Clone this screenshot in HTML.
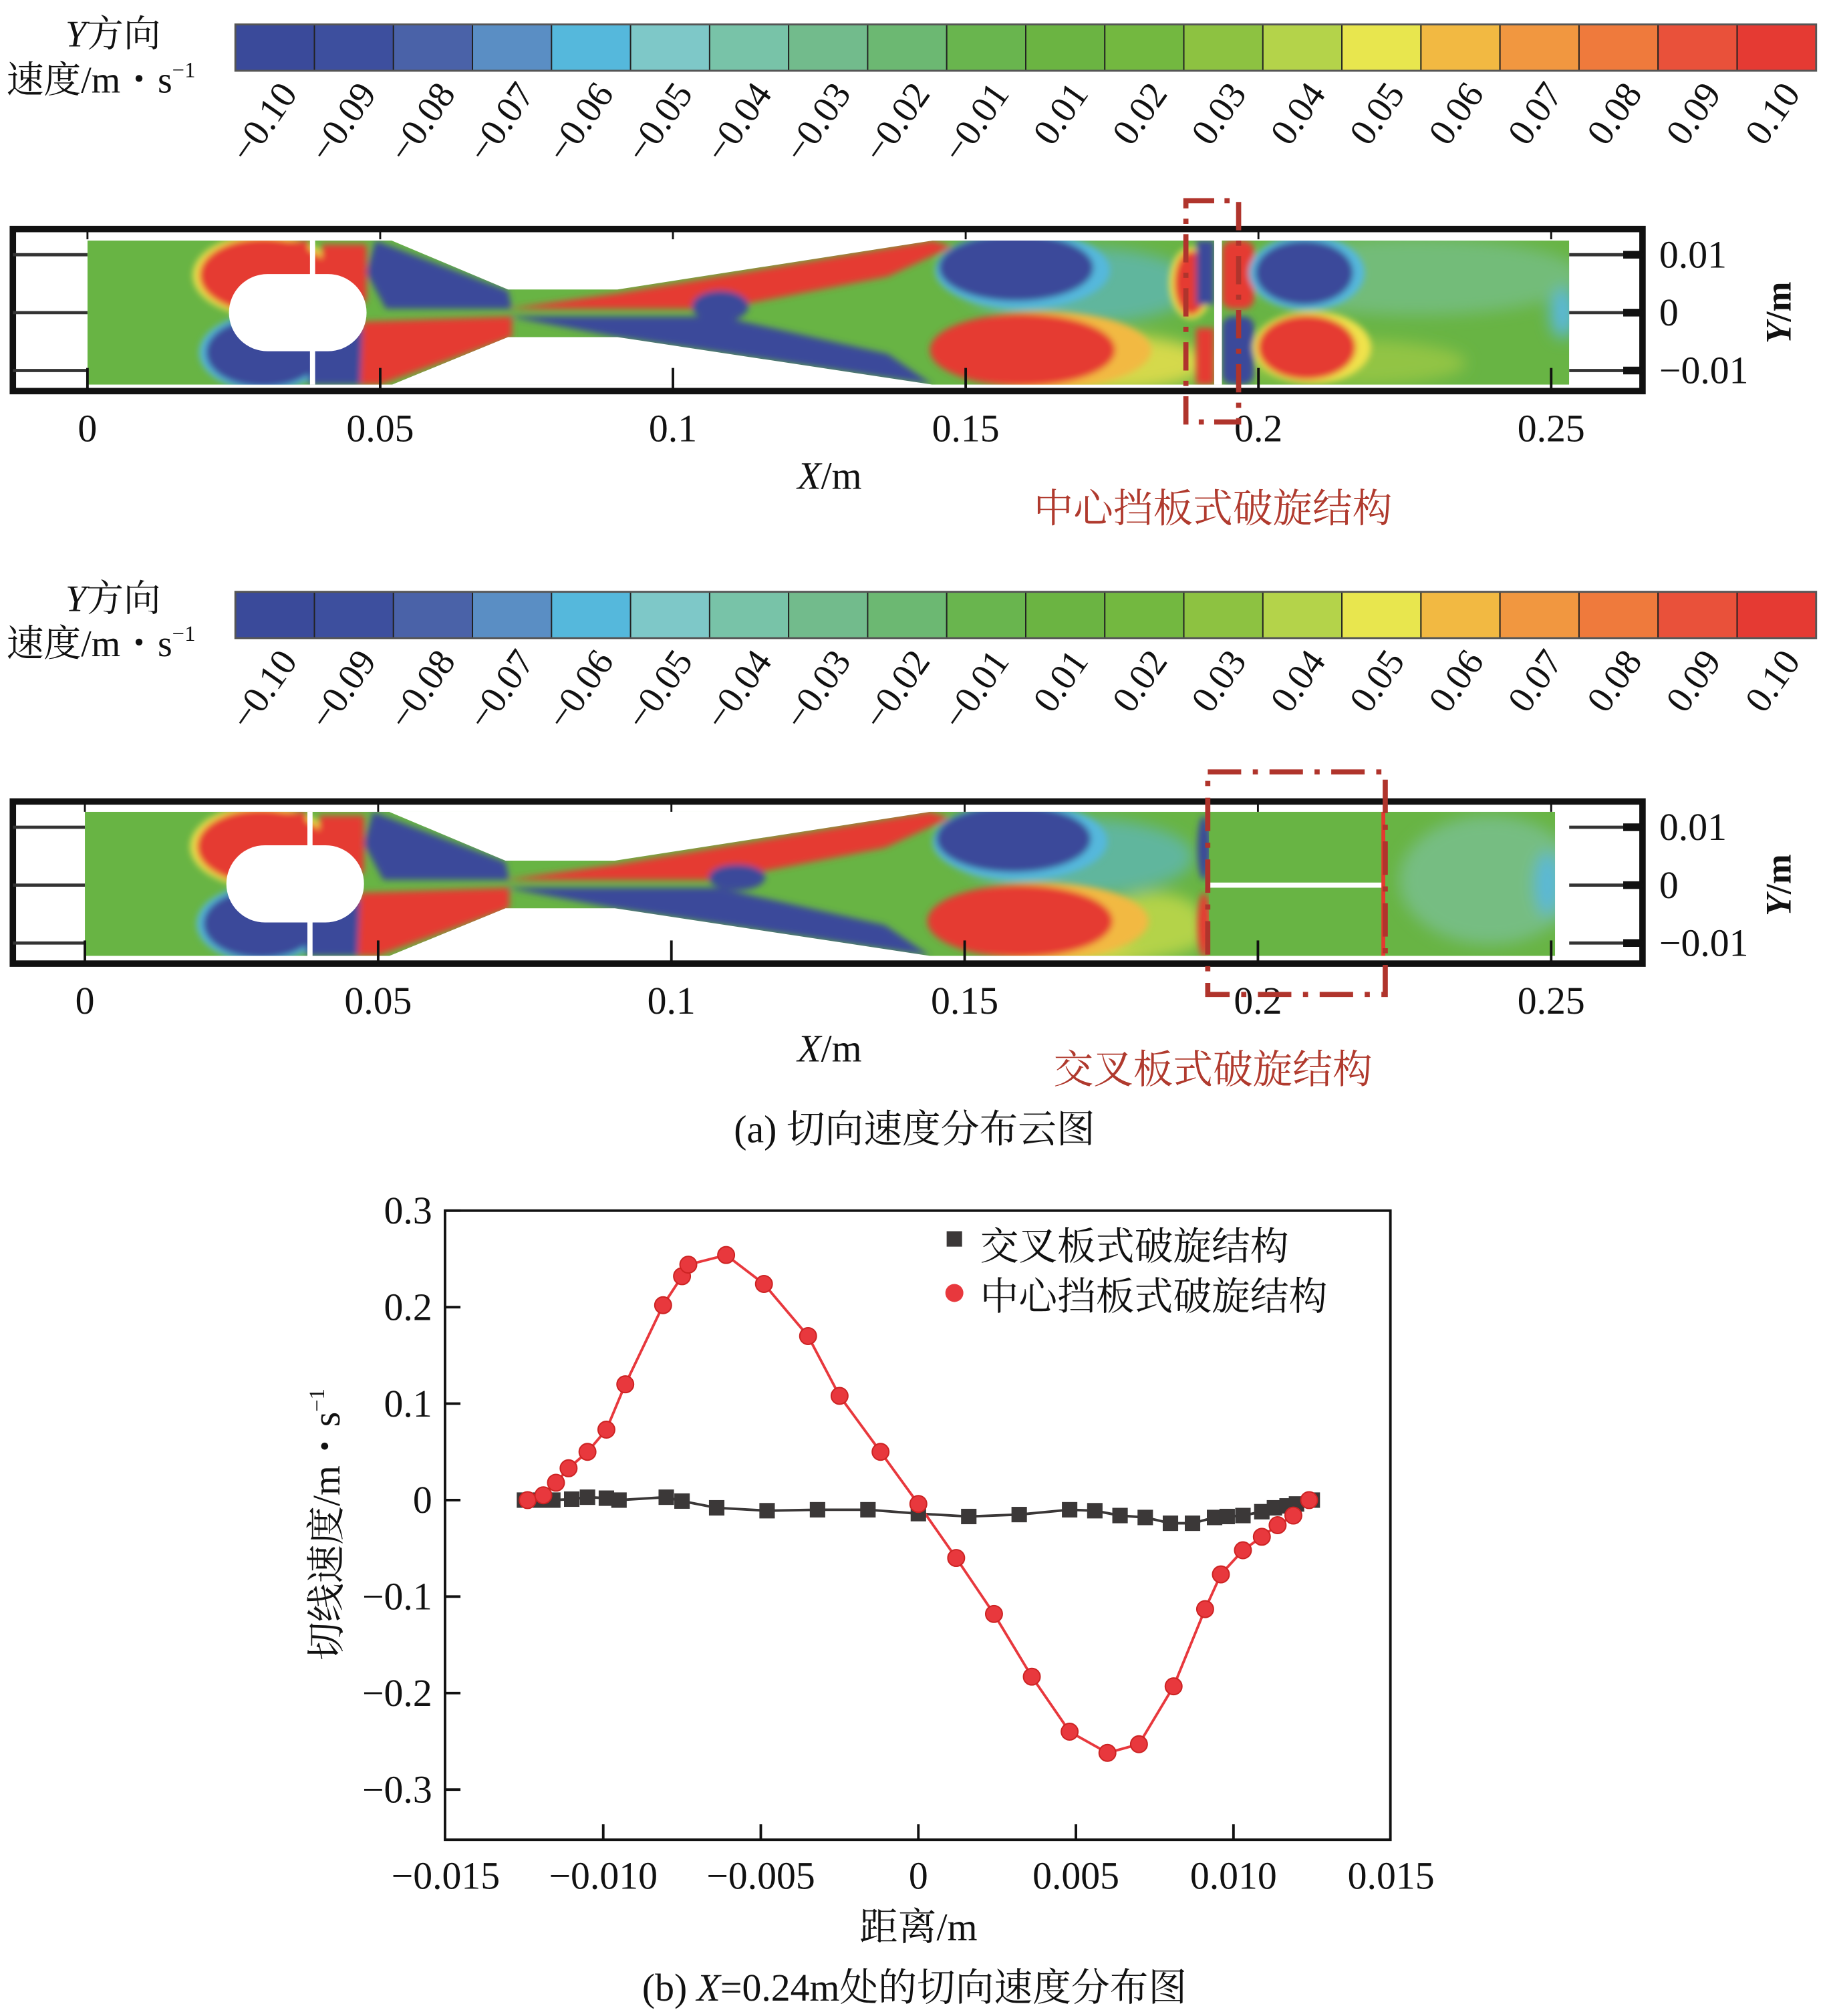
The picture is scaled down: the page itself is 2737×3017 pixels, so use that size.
<!DOCTYPE html>
<html><head><meta charset="utf-8"><style>
html,body{margin:0;padding:0;background:#fff}
svg{display:block}
text{font-family:"Liberation Serif","Noto Serif CJK SC",serif;fill:#111}
</style></head><body>
<svg id="root" width="2737" height="3017" viewBox="0 0 1422 1567" preserveAspectRatio="none" xmlns="http://www.w3.org/2000/svg">
<defs>
<filter id="bl" x="-20%" y="-20%" width="140%" height="140%"><feGaussianBlur stdDeviation="2.5"/></filter>
<filter id="bl2" x="-30%" y="-30%" width="160%" height="160%"><feGaussianBlur stdDeviation="6"/></filter>
<clipPath id="dom1"><rect x="68" y="187" width="1152" height="112"/></clipPath>
<clipPath id="dom2"><rect x="66" y="631" width="1143" height="112"/></clipPath>
</defs>

<!-- ============ PANEL 1 ============ -->
<g id="cb1"></g>
<text x="88" y="36" font-size="29" text-anchor="middle"><tspan font-style="italic">Y</tspan>方向</text>
<text x="5" y="72" font-size="29">速度/m・s<tspan font-size="17" dy="-12">−1</tspan></text>

<g clip-path="url(#dom1)">
 <rect x="68" y="187" width="1152" height="112" fill="#68b444"/>
 <g filter="url(#bl2)">
  <ellipse cx="1100" cy="215" rx="130" ry="30" fill="#7cc29c" opacity="0.6"/>
  <ellipse cx="840" cy="222" rx="90" ry="30" fill="#5ab8d8" opacity="0.6"/>
  <ellipse cx="860" cy="282" rx="80" ry="22" fill="#f0e24c" opacity="0.8"/>
  <ellipse cx="1050" cy="282" rx="90" ry="18" fill="#9cc845" opacity="0.8"/>
  <ellipse cx="1215" cy="243" rx="10" ry="20" fill="#5ab8d8"/>
 </g>
 <g filter="url(#bl)">
  <ellipse cx="205" cy="214" rx="55" ry="32" fill="#f0e24c"/>
  <ellipse cx="205" cy="214" rx="50" ry="29" fill="#e53a30"/>
  <ellipse cx="205" cy="274" rx="50" ry="30" fill="#55b8dc"/>
  <ellipse cx="205" cy="274" rx="45" ry="27" fill="#3a4a9a"/>
  <rect x="205" y="187" width="35" height="40" fill="#e53a30"/>
  <rect x="250" y="190" width="35" height="45" fill="#e53a30"/>
  <rect x="240" y="255" width="45" height="44" fill="#3a4a9a"/>
  <polygon points="292,187 395,226 398,240 300,240 285,212" fill="#3a4a9a"/>
  <polygon points="282,250 398,246 398,262 295,299 280,299" fill="#e53a30"/>
  <polygon points="395,240 480,228 725,187 740,192 690,215 560,240" fill="#e53a30"/>
  <polygon points="395,246 560,246 690,275 725,299 480,262" fill="#3a4a9a"/>
  <ellipse cx="560" cy="238" rx="22" ry="12" fill="#3a4a9a"/>
  <ellipse cx="795" cy="210" rx="68" ry="30" fill="#55b8dc"/>
  <ellipse cx="790" cy="208" rx="60" ry="26" fill="#3a4a9a"/>
  <ellipse cx="810" cy="272" rx="85" ry="30" fill="#f2b942"/>
  <ellipse cx="795" cy="272" rx="72" ry="28" fill="#e53a30"/>
  <ellipse cx="926" cy="220" rx="17" ry="28" fill="#f0e24c"/>
  <ellipse cx="926" cy="220" rx="13" ry="25" fill="#e53a30"/>
  <rect x="930" y="187" width="14" height="50" fill="#3a4a9a"/>
  <rect x="930" y="255" width="14" height="44" fill="#e53a30"/>
  <rect x="950" y="187" width="25" height="53" rx="8" fill="#e53a30"/>
  <rect x="950" y="246" width="25" height="53" rx="8" fill="#3a4a9a"/>
  <ellipse cx="1016" cy="212" rx="45" ry="29" fill="#55b8dc"/>
  <ellipse cx="1014" cy="212" rx="38" ry="25" fill="#3a4a9a"/>
  <ellipse cx="1020" cy="270" rx="46" ry="28" fill="#f0e24c"/>
  <ellipse cx="1016" cy="270" rx="38" ry="25" fill="#e53a30"/>
 </g>
 <rect x="178" y="213" width="107" height="60" rx="30" fill="#fff"/>
 <polygon points="295,183 730,183 725,187 480,225 395,225" fill="#fff"/>
 <polygon points="295,303 730,303 725,299 480,262 395,262" fill="#fff"/>
 <rect x="944" y="187" width="6" height="112" fill="#fff"/>
 <rect x="241" y="187" width="4" height="112" fill="#fff"/>
</g>
<g id="frame1"></g>
<rect x="922" y="156" width="41" height="172" fill="none" stroke="#b0342c" stroke-width="4" stroke-dasharray="22,8,4,8"/>
<text x="645" y="380" font-size="30" text-anchor="middle"><tspan font-style="italic">X</tspan>/m</text>
<text x="943" y="406" font-size="31" text-anchor="middle" style="fill:#b03a2e">中心挡板式破旋结构</text>

<!-- ============ PANEL 2 ============ -->
<g id="cb2"></g>
<text x="88" y="475" font-size="29" text-anchor="middle"><tspan font-style="italic">Y</tspan>方向</text>
<text x="5" y="510" font-size="29">速度/m・s<tspan font-size="17" dy="-12">−1</tspan></text>

<g clip-path="url(#dom2)">
 <g transform="translate(-2,444)">
 <rect x="68" y="187" width="1152" height="112" fill="#68b444"/>
 <g filter="url(#bl2)">
  <ellipse cx="840" cy="222" rx="90" ry="30" fill="#5ab8d8" opacity="0.6"/>
  <ellipse cx="860" cy="282" rx="80" ry="22" fill="#f0e24c" opacity="0.8"/>
  <ellipse cx="1160" cy="240" rx="70" ry="50" fill="#7cc29c" opacity="0.7"/>
  <ellipse cx="1205" cy="243" rx="10" ry="25" fill="#5ab8d8"/>
  <ellipse cx="900" cy="275" rx="40" ry="25" fill="#b4d34a"/>
 </g>
 <g filter="url(#bl)">
  <ellipse cx="205" cy="214" rx="55" ry="32" fill="#f0e24c"/>
  <ellipse cx="205" cy="214" rx="50" ry="29" fill="#e53a30"/>
  <ellipse cx="205" cy="274" rx="50" ry="30" fill="#55b8dc"/>
  <ellipse cx="205" cy="274" rx="45" ry="27" fill="#3a4a9a"/>
  <rect x="205" y="187" width="35" height="40" fill="#e53a30"/>
  <rect x="250" y="190" width="35" height="45" fill="#e53a30"/>
  <rect x="240" y="255" width="45" height="44" fill="#3a4a9a"/>
  <polygon points="292,187 395,226 398,240 300,240 285,212" fill="#3a4a9a"/>
  <polygon points="282,250 398,246 398,262 295,299 280,299" fill="#e53a30"/>
  <polygon points="395,240 480,228 725,187 740,192 690,215 560,240" fill="#e53a30"/>
  <polygon points="395,246 560,246 690,275 725,299 480,262" fill="#3a4a9a"/>
  <ellipse cx="575" cy="238" rx="22" ry="10" fill="#3a4a9a"/>
  <ellipse cx="795" cy="210" rx="68" ry="30" fill="#55b8dc"/>
  <ellipse cx="790" cy="208" rx="60" ry="26" fill="#3a4a9a"/>
  <ellipse cx="810" cy="272" rx="85" ry="30" fill="#f2b942"/>
  <ellipse cx="795" cy="272" rx="72" ry="28" fill="#e53a30"/>
  <ellipse cx="938" cy="215" rx="5" ry="25" fill="#3a4a9a"/>
  <ellipse cx="938" cy="275" rx="5" ry="25" fill="#e53a30"/>
 </g>
 <rect x="942" y="187" width="136" height="112" fill="#68b444"/>
 <rect x="942" y="242" width="136" height="4" fill="#fff"/>
 <rect x="1076" y="187" width="3" height="112" fill="#e53a30"/>
 <rect x="178" y="213" width="107" height="60" rx="30" fill="#fff"/>
 <polygon points="295,183 730,183 725,187 480,225 395,225" fill="#fff"/>
 <polygon points="295,303 730,303 725,299 480,262 395,262" fill="#fff"/>
 <rect x="241" y="187" width="4" height="112" fill="#fff"/>
 </g>
</g>
<g id="frame2"></g>
<rect x="939" y="600" width="138" height="173" fill="none" stroke="#b0342c" stroke-width="4" stroke-dasharray="26,9,4,9"/>
<text x="645" y="825" font-size="30" text-anchor="middle"><tspan font-style="italic">X</tspan>/m</text>
<text x="943" y="842" font-size="31" text-anchor="middle" style="fill:#b03a2e">交叉板式破旋结构</text>
<text x="711" y="888" font-size="30" text-anchor="middle">(a) 切向速度分布云图</text>

<!-- ============ CHART (b) ============ -->
<g id="chart"></g>
<text x="714" y="1508" font-size="30" text-anchor="middle">距离/m</text>
<text transform="translate(264,1185) rotate(-90)" font-size="30" text-anchor="middle">切线速度/m・s<tspan font-size="17" dy="-12">−1</tspan></text>
<text x="711" y="1555" font-size="30" text-anchor="middle">(b) <tspan font-style="italic">X</tspan>=0.24m处的切向速度分布图</text>
<g>
 <rect x="736" y="957" width="12" height="12" fill="#3b3838"/>
 <text x="762" y="979" font-size="30">交叉板式破旋结构</text>
 <circle cx="742" cy="1005" r="7" fill="#e8383d"/>
 <text x="762" y="1018" font-size="30">中心挡板式破旋结构</text>
</g>
</svg>

<script>
const NS="http://www.w3.org/2000/svg";
const cbColors=["#3a4a9a","#3d4f9e","#4a62a8","#5a8ec4","#55b8dc","#7ec8c8","#78c3a8","#72bb8c","#6cb872","#69b54e","#6bb442","#73b840","#8dc241","#b4d34a","#e8e64e","#f2b942","#f19740","#ef7a3c","#e9513a","#e53a33"];
const cbLabels=["−0.10","−0.09","−0.08","−0.07","−0.06","−0.05","−0.04","−0.03","−0.02","−0.01","0.01","0.02","0.03","0.04","0.05","0.06","0.07","0.08","0.09","0.10"];
const xTickLabels=["0","0.05","0.1","0.15","0.2","0.25"];
const xTickVals=[0,0.05,0.1,0.15,0.2,0.25];
const yTickLabels=["0.01","0","−0.01"];
const yTickVals=[0.01,0,-0.01];
// chart (b) data
const crossX=[-12.5,-12.0,-11.6,-11.0,-10.5,-9.9,-9.5,-8.0,-7.5,-6.4,-4.8,-3.2,-1.6,0,1.6,3.2,4.8,5.6,6.4,7.2,8.0,8.7,9.4,9.8,10.3,10.9,11.3,11.7,12.0,12.5];
const crossY=[0,0,0,0.001,0.003,0.002,0,0.003,-0.001,-0.008,-0.011,-0.010,-0.010,-0.014,-0.017,-0.015,-0.010,-0.011,-0.016,-0.018,-0.024,-0.024,-0.018,-0.017,-0.016,-0.012,-0.008,-0.006,-0.004,0];
const centerX=[-12.4,-11.9,-11.5,-11.1,-10.5,-9.9,-9.3,-8.1,-7.5,-7.3,-6.1,-4.9,-3.5,-2.5,-1.2,0,1.2,2.4,3.6,4.8,6.0,7.0,8.1,9.1,9.6,10.3,10.9,11.4,11.9,12.4];
const centerY=[0,0.005,0.018,0.033,0.050,0.073,0.120,0.202,0.232,0.244,0.254,0.224,0.170,0.108,0.050,-0.004,-0.060,-0.118,-0.183,-0.240,-0.262,-0.253,-0.193,-0.113,-0.077,-0.052,-0.038,-0.026,-0.016,0];
const bXTicks=[-0.015,-0.010,-0.005,0,0.005,0.010,0.015];
const bXLabels=["−0.015","−0.010","−0.005","0","0.005","0.010","0.015"];
const bYTicks=[0.3,0.2,0.1,0,-0.1,-0.2,-0.3];
const bYLabels=["0.3","0.2","0.1","0","−0.1","−0.2","−0.3"];

function mk(tag,attrs,parent){const e=document.createElementNS(NS,tag);for(const k in attrs)e.setAttribute(k,attrs[k]);parent.appendChild(e);return e;}

function colorbar(g,y0){
  const x0=183,w=1229/cbColors.length;
  cbColors.forEach((c,i)=>{
    const r=mk("rect",{x:x0+i*w,y:y0,width:w,height:36,fill:c,stroke:"#222","stroke-width":1},g);
    
    
  });
  mk("rect",{x:x0,y:y0,width:1229,height:36,fill:"none",stroke:"#555","stroke-width":1.5},g);
  cbLabels.forEach((t,i)=>{
    const tx=mk("text",{transform:"translate("+(232+i*61.5)+","+(y0+54)+") rotate(-55)","font-size":29,"text-anchor":"end"},g);
    tx.textContent=t;
    
    
  });
}
colorbar(document.getElementById("cb1"),19);
colorbar(document.getElementById("cb2"),460);

function frame(g,top,x0){
  const sx=v=>x0+v*(1206-x0)/0.25;
  const sy=v=>top+65-v*4500;
  mk("rect",{x:10,y:top,width:1267,height:126,fill:"none",stroke:"#111","stroke-width":5},g);
  yTickVals.forEach(v=>{
    mk("line",{x1:10,x2:x0,y1:sy(v),y2:sy(v),stroke:"#333","stroke-width":2.5},g);
    mk("line",{x1:1220,x2:1277,y1:sy(v),y2:sy(v),stroke:"#333","stroke-width":2.5},g);
    mk("line",{x1:1262,x2:1277,y1:sy(v),y2:sy(v),stroke:"#111","stroke-width":6},g);
  });
  xTickVals.forEach((v,i)=>{
    mk("line",{x1:sx(v),x2:sx(v),y1:top+126,y2:top+108,stroke:"#111","stroke-width":2},g);
    mk("line",{x1:sx(v),x2:sx(v),y1:top,y2:top+8,stroke:"#111","stroke-width":1.5},g);
    const t=mk("text",{x:sx(v),y:top+165,"font-size":30,"text-anchor":"middle"},g);
    t.textContent=xTickLabels[i];
    
    
  });
  yTickVals.forEach((v,i)=>{
    const t=mk("text",{x:1290,y:sy(v)+10,"font-size":30},g);
    t.textContent=yTickLabels[i];
    
    
  });
  const yt=mk("text",{transform:"translate(1392,"+(top+65)+") rotate(-90)","font-size":28,"font-weight":"bold","text-anchor":"middle"},g);
  const ts=mk("tspan",{"font-style":"italic"},yt);
  ts.textContent="Y";
  yt.appendChild(document.createTextNode("/m"));
  
  
}
frame(document.getElementById("frame1"),178,68);
frame(document.getElementById("frame2"),623,66);

// chart b
(function(){
  const g=document.getElementById("chart");
  const L=346,R=1081,T=941,B=1430;
  const sx=v=>714+v*24500;
  const sxmm=v=>sx(v/1000);
  const sy=v=>1166-v*750;
  mk("rect",{x:L,y:T,width:R-L,height:B-T,fill:"none",stroke:"#111","stroke-width":2},g);
  bXTicks.forEach((v,i)=>{
    if(i>0 && i<bXTicks.length-1) mk("line",{x1:sx(v),x2:sx(v),y1:B,y2:B-12,stroke:"#111","stroke-width":2},g);
    const t=mk("text",{x:sx(v),y:B+38,"font-size":30,"text-anchor":"middle"},g);
    t.textContent=bXLabels[i];
    
    
  });
  bYTicks.forEach((v,i)=>{
    mk("line",{x1:L,x2:L+12,y1:sy(v),y2:sy(v),stroke:"#111","stroke-width":2},g);
    const t=mk("text",{x:L-10,y:sy(v)+10,"font-size":30,"text-anchor":"end"},g);
    t.textContent=bYLabels[i];
    
    
  });
  const pc=crossX.map((x,i)=>sxmm(x)+","+sy(crossY[i])).join(" ");
  const l1=mk("polyline",{points:pc,fill:"none",stroke:"#3b3838","stroke-width":2},g);
  
  
  const pr=centerX.map((x,i)=>sxmm(x)+","+sy(centerY[i])).join(" ");
  const l2=mk("polyline",{points:pr,fill:"none",stroke:"#e8383d","stroke-width":2},g);
  
  
  crossX.forEach((x,i)=>{
    const r=mk("rect",{x:sxmm(x)-6,y:sy(crossY[i])-6,width:12,height:12,fill:"#3b3838"},g);
    
    
  });
  centerX.forEach((x,i)=>{
    const c=mk("circle",{cx:sxmm(x),cy:sy(centerY[i]),r:6.5,fill:"#e8383d",stroke:"#c22","stroke-width":1},g);
    
    
  });
})();
</script>
</body></html>
